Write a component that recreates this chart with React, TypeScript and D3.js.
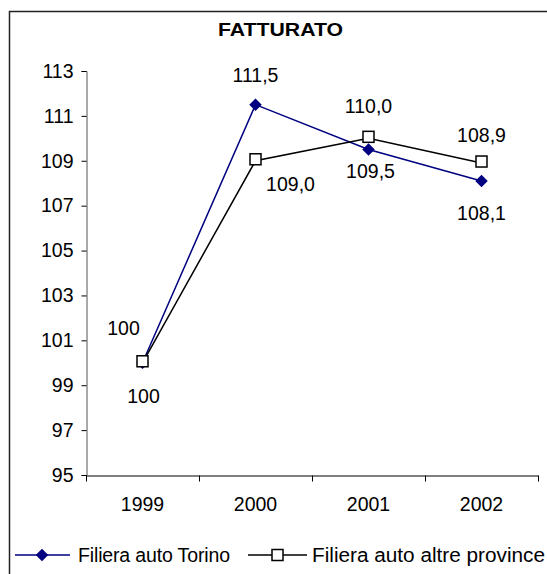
import React, { useEffect, useRef } from "react";
import * as d3 from "d3";

const years = ["1999", "2000", "2001", "2002"];
const torino = [100, 111.5, 109.5, 108.1];
const altre = [100, 109.0, 110.0, 108.9];
const torinoLabels = ["100", "111,5", "109,5", "108,1"];
const altreLabels = ["100", "109,0", "110,0", "108,9"];
const yTicks = [95, 97, 99, 101, 103, 105, 107, 109, 111, 113];

// label offsets from the point (dx, dy of text centre)
const torinoOffsets = [[1, 33], [0, -29], [2, 22], [0, 32]];
const altreOffsets = [[-19, -35], [35, 23], [0, -32], [0, -28]];

const FONT = "Liberation Sans, Arial, sans-serif";

const App: React.FC = () => {
  const svgRef = useRef<SVGSVGElement | null>(null);

  useEffect(() => {
    if (!svgRef.current) return;
    const width = 547;
    const height = 574;

    d3.select(svgRef.current).selectAll("*").remove();
    const svg = d3.select(svgRef.current).attr("width", width).attr("height", height);

    // outer frame (cropped on right and bottom)
    svg.append("rect")
      .attr("x", 9.5).attr("y", 11.5)
      .attr("width", 600).attr("height", 600)
      .attr("fill", "white").attr("stroke", "#222").attr("stroke-width", 1.5);

    svg.append("text")
      .attr("x", 218).attr("y", 36)
      .attr("textLength", 125).attr("lengthAdjust", "spacingAndGlyphs")
      .attr("font-family", FONT).attr("font-size", 19).attr("font-weight", "bold")
      .text("FATTURATO");

    const x = d3.scaleBand().domain(years).range([86, 538]);
    const y = d3.scaleLinear().domain([95, 113]).range([475, 71]);
    const cx = (i: number) => x(years[i])! + x.bandwidth() / 2;

    // y axis
    const yAxis = svg.append("g").attr("transform", "translate(86.5,0)")
      .call(d3.axisLeft(y).tickValues(yTicks).tickSize(5).tickPadding(8).tickFormat(d3.format("d")));
    yAxis.select(".domain").attr("stroke", "#555");
    yAxis.selectAll("line").attr("stroke", "#000");
    yAxis.selectAll("text").attr("font-family", FONT).attr("font-size", 19.5).attr("fill", "#000");

    // x axis
    const xAxis = svg.append("g").attr("transform", "translate(0,475.5)")
      .call(d3.axisBottom(x).tickSize(0).tickPadding(22));
    xAxis.select(".domain").attr("stroke", "#000");
    xAxis.selectAll("text").attr("font-family", FONT).attr("font-size", 19.5).attr("fill", "#000");
    xAxis.selectAll(".tick line").remove();
    const bounds = [...years.map((d) => x(d)!), 538];
    xAxis.selectAll(".bound")
      .data(bounds)
      .enter()
      .append("line")
      .attr("x1", (d) => Math.round(d) + 0.5).attr("x2", (d) => Math.round(d) + 0.5)
      .attr("y1", 0).attr("y2", 6)
      .attr("stroke", "#000");

    const line = d3.line<number>().x((_, i) => cx(i)).y((d) => y(d));

    // Torino series
    svg.append("path").datum(torino).attr("d", line)
      .attr("fill", "none").attr("stroke", "#000080").attr("stroke-width", 1.5);
    // Altre province series
    svg.append("path").datum(altre).attr("d", line)
      .attr("fill", "none").attr("stroke", "#000").attr("stroke-width", 1.5);

    const diamond = d3.symbol().type(d3.symbolDiamond2).size(100);
    svg.selectAll(".dia").data(torino).enter().append("path")
      .attr("d", diamond)
      .attr("transform", (d, i) => `translate(${cx(i)},${y(d)})`)
      .attr("fill", "#000080");

    svg.selectAll(".sq").data(altre).enter().append("rect")
      .attr("x", (_, i) => cx(i) - 5.5).attr("y", (d) => y(d) - 7)
      .attr("width", 11).attr("height", 11)
      .attr("fill", "white").attr("stroke", "#000").attr("stroke-width", 1.5);

    const addLabels = (vals: number[], labels: string[], offs: number[][]) => {
      svg.selectAll(null).data(vals).enter().append("text")
        .attr("x", (_, i) => cx(i) + offs[i][0])
        .attr("y", (d, i) => y(d) + offs[i][1])
        .attr("dy", "0.35em")
        .attr("text-anchor", "middle")
        .attr("font-family", FONT).attr("font-size", 19.5)
        .text((_, i) => labels[i]);
    };
    addLabels(torino, torinoLabels, torinoOffsets);
    addLabels(altre, altreLabels, altreOffsets);

    // legend
    const lg = svg.append("g").attr("transform", "translate(0,555)");
    lg.append("line").attr("x1", 15).attr("x2", 70).attr("y1", 0).attr("y2", 0)
      .attr("stroke", "#000080").attr("stroke-width", 1.5);
    lg.append("path").attr("d", diamond).attr("transform", "translate(42,0)").attr("fill", "#000080");
    lg.append("text").attr("x", 78).attr("y", 0).attr("dy", "0.35em")
      .attr("textLength", 152).attr("lengthAdjust", "spacing")
      .attr("font-family", FONT).attr("font-size", 19.5).text("Filiera auto Torino");
    lg.append("line").attr("x1", 248).attr("x2", 307).attr("y1", 0).attr("y2", 0)
      .attr("stroke", "#000").attr("stroke-width", 1.5);
    lg.append("rect").attr("x", 272).attr("y", -5.5).attr("width", 11).attr("height", 11)
      .attr("fill", "white").attr("stroke", "#000").attr("stroke-width", 1.5);
    lg.append("text").attr("x", 312).attr("y", 0).attr("dy", "0.35em")
      .attr("textLength", 233).attr("lengthAdjust", "spacingAndGlyphs")
      .attr("font-family", FONT).attr("font-size", 19.5).text("Filiera auto altre province");
  }, []);

  return <svg ref={svgRef} style={{ position: "absolute", left: 0, top: 0 }}></svg>;
};

export default App;
